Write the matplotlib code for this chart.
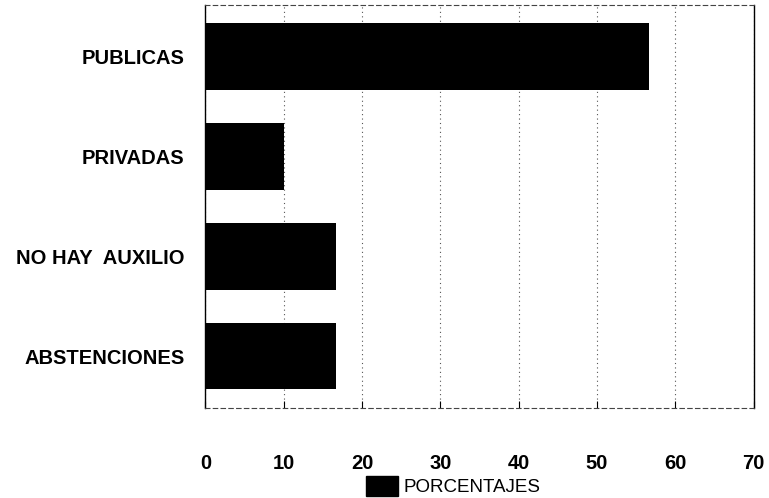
import matplotlib
matplotlib.use('Agg')
import matplotlib.pyplot as plt
from matplotlib.patches import Patch

# data
categories = ['PUBLICAS', 'PRIVADAS', 'NO HAY  AUXILIO', 'ABSTENCIONES']
values = [56.7, 10.0, 16.7, 16.7]
x_ticks = [0, 10, 20, 30, 40, 50, 60, 70]
legend_label = 'PORCENTAJES'

plt.rcParams['font.family'] = ['Liberation Sans', 'DejaVu Sans']

fig = plt.figure(figsize=(7.69, 4.98), dpi=100)
ax = fig.add_axes([0.267, 0.181, 0.713, 0.809])

y_pos = list(range(len(categories)))
ax.barh(y_pos, values, height=0.67, color='black', zorder=3)

ax.set_xlim(0, 70)
ax.set_ylim(len(categories) - 0.48, -0.52)
ax.set_yticks(y_pos)
ax.set_yticklabels(categories, fontsize=14.5, fontweight='bold')
ax.set_xticks(x_ticks)
ax.set_xticklabels([str(t) for t in x_ticks], fontsize=14.5, fontweight='bold')

ax.tick_params(axis='y', length=0, pad=15)
ax.tick_params(axis='x', length=5, direction='in', pad=33)

ax.grid(axis='x', linestyle=(0, (1, 3)), color='#555555', linewidth=0.8, zorder=0)

for side in ['top', 'bottom']:
    ax.spines[side].set_linestyle((0, (4, 3)))
    ax.spines[side].set_linewidth(0.8)
    ax.spines[side].set_color('#444444')
ax.spines['left'].set_linewidth(1.0)
ax.spines['right'].set_linewidth(1.0)
ax.spines['right'].set_linestyle((0, (3, 1)))

handle = Patch(facecolor='black', edgecolor='black')
fig.legend([handle], [legend_label], loc='lower center', bbox_to_anchor=(0.59, -0.03),
           frameon=False, fontsize=13.5, handlelength=1.7, handleheight=1.3,
           handletextpad=0.3)

fig.savefig('out.png', dpi=100)
plt.close()
